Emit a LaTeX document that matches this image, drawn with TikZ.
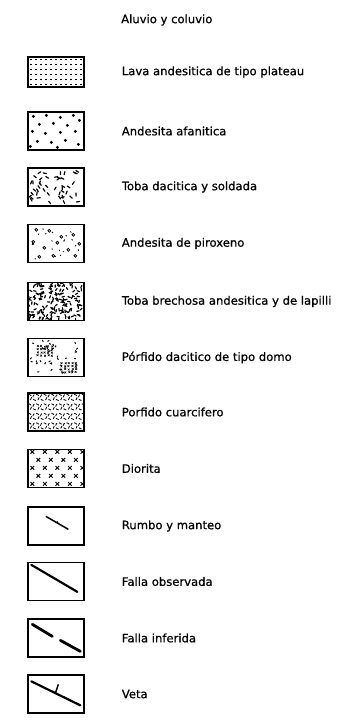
\documentclass[tikz,border=0pt]{standalone}
\usepackage{fontspec}
\setmainfont{DejaVu Sans}
\newfontfamily\lblfont[FakeBold=0.7]{DejaVu Sans}
\usetikzlibrary{positioning,calc}
\tikzset{
  sym/.style={draw,line width=1.3pt,minimum width=56pt,minimum height=38pt,inner sep=0pt},
  lbl/.style={anchor=west,inner sep=0pt,font=\fontsize{11.6}{13}\lblfont},
  fault/.style={line width=2.2pt,line cap=round},
  speck/.style={line width=1.2pt,line cap=round},
  ring/.style={line width=0.8pt},
}
\newcommand{\inbox}[1]{\clip (#1.north west) rectangle (#1.south east);}

\begin{document}
\begin{tikzpicture}[x=1pt,y=-1pt,node distance=37pt]
\useasboundingbox (0,0) rectangle (349,726);
% symbols
\node[sym,minimum height=30pt] (lava) at (56,72) {};
\node[sym] (afan) at (56,131) {};
\node[sym] (tdac) at (56,187) {};
\node[sym] (pirox) at (56,243.5) {};
\node[sym] (brech) at (56,301.5) {};
\node[sym] (pdac) at (56,357.5) {};
\node[sym] (cuarz) at (56,412) {};
\node[sym] (dior) at (56,468.5) {};
\node[sym] (rumbo) at (56,526) {};
\node[sym] (fobs) at (56,581.5) {};
\node[sym] (finf) at (56,638) {};
\node[sym] (veta) at (56,694) {};
% labels
\node[lbl] (taluv) at (121,20) {Aluvio y coluvio};
\node[lbl,right=of lava] (tlava) {Lava andesitica de tipo plateau};
\node[lbl,right=of afan] (tafan) {Andesita afanitica};
\node[lbl,right=of tdac] (ttdac) {Toba dacitica y soldada};
\node[lbl,right=of pirox] (tpirox) {Andesita de piroxeno};
\node[lbl,right=of brech] (tbrech) {Toba brechosa andesitica y de lapilli};
\node[lbl,right=of pdac] (tpdac) {Pórfido dacitico de tipo domo};
\node[lbl,right=of cuarz] (tcuarz) {Porfido cuarcifero};
\node[lbl,right=of dior] (tdior) {Diorita};
\node[lbl,right=of rumbo] (trumbo) {Rumbo y manteo};
\node[lbl,right=of fobs] (tfobs) {Falla observada};
\node[lbl,right=of finf] (tfinf) {Falla inferida};
\node[lbl,right=of veta] (tveta) {Veta};

% lava: regular rows of small dashes
\begin{scope}\inbox{lava}
  \foreach \r in {0,...,5}
    \foreach \c in {0,...,10}
      \fill ($(lava.north west)+(2.5+5*\c,2.5+5*\r)$) rectangle ++(2.2,1.6);
\end{scope}
% andesita afanitica: scattered dots
\begin{scope}[shift={(afan.north west)}]\inbox{afan}
  \foreach \px/\py in {6/5,19/4,33/6,46/4,52/9,12/13,26/12,40/14,5/20,18/22,33/21,48/20,10/30,24/31,38/29,51/33,3/35,30/36}
    \fill (\px,\py) circle (1.6);
\end{scope}
% toba dacitica: random short dashes
\begin{scope}[shift={(tdac.north west)}]\inbox{tdac}
  \pgfmathsetseed{11}
  \foreach \i in {1,...,46}{
    \pgfmathsetmacro\px{3+50*rnd}\pgfmathsetmacro\py{3+32*rnd}\pgfmathsetmacro\pa{180*rnd}
    \draw[speck] (\px,\py) -- ++(\pa:3.2);}
\end{scope}
% andesita de piroxeno: small rings and specks
\begin{scope}[shift={(pirox.north west)}]\inbox{pirox}
  \pgfmathsetseed{5}
  \foreach \px/\py in {9/6,22/7,34/13,46/11,52/20,17/24,30/19,41/26,12/33,26/32,48/32,6/18}
    \draw[ring] (\px,\py) circle (1.4);
  \foreach \i in {1,...,22}{
    \pgfmathsetmacro\px{3+50*rnd}\pgfmathsetmacro\py{3+32*rnd}\pgfmathsetmacro\pa{180*rnd}
    \draw[line width=0.8pt] (\px,\py) -- ++(\pa:1.4);}
\end{scope}
% toba brechosa: dense dashes
\begin{scope}[shift={(brech.north west)}]\inbox{brech}
  \pgfmathsetseed{23}
  \foreach \i in {1,...,170}{
    \pgfmathsetmacro\px{1+54*rnd}\pgfmathsetmacro\py{1+36*rnd}\pgfmathsetmacro\pa{180*rnd}
    \draw[speck] (\px,\py) -- ++(\pa:2.4);}
\end{scope}
% porfido dacitico: crossed clusters and dashes
\begin{scope}[shift={(pdac.north west)}]\inbox{pdac}
  \pgfmathsetseed{31}
  \foreach \cx/\cy in {17/13,41/30}
    \foreach \dx in {-7,-3.5,...,7}
      \foreach \dy in {-5,-2,...,5}{
        \pgfmathsetmacro\px{\cx+\dx+rnd}\pgfmathsetmacro\py{\cy+\dy+rnd}
        \draw[line width=0.5pt] (\px-0.9,\py-0.9) -- (\px+0.9,\py+0.9) (\px-0.9,\py+0.9) -- (\px+0.9,\py-0.9);}
  \foreach \i in {1,...,40}{
    \pgfmathsetmacro\px{2+52*rnd}\pgfmathsetmacro\py{2+34*rnd}\pgfmathsetmacro\pa{180*rnd}
    \draw[line width=1pt] (\px,\py) -- ++(\pa:2);}
\end{scope}
% porfido cuarcifero: rows of rings
\begin{scope}[shift={(cuarz.north west)}]\inbox{cuarz}
  \foreach \r in {0,...,3}
    \foreach \c in {0,...,7}
      \draw[ring,densely dashed] (1+7.6*\c,5+9.5*\r) circle (3.2);
\end{scope}
% diorita: staggered crosses
\begin{scope}[shift={(dior.north west)}]\inbox{dior}
  \foreach \r in {0,...,4}
    \foreach \c in {0,...,4}{
      \pgfmathsetmacro\px{5+12.5*\c+6*mod(\r,2)}
      \draw[line width=1pt] (\px-1.8,3+8*\r-1.8) -- (\px+1.8,3+8*\r+1.8) (\px-1.8,3+8*\r+1.8) -- (\px+1.8,3+8*\r-1.8);}
\end{scope}
% rumbo y manteo
\coordinate (r1) at ($(rumbo.north west)+(18.5,10)$);
\coordinate (r2) at ($(rumbo.north west)+(41,23)$);
\draw[line width=1.5pt] (r1) -- (r2);
\draw[line width=1pt] ($(r1)!0.55!(r2)$) -- ++(60:-2.5);
% fallas
\draw[fault] ($(fobs.north west)+(4,3)$) -- ($(fobs.north west)+(50,30)$);
\draw[fault,line width=2.8pt] ($(finf.north west)+(5,6)$) -- ($(finf.north west)+(25,18)$);
\draw[fault,line width=2.8pt] ($(finf.north west)+(33,22)$) -- ($(finf.north west)+(53,33)$);
% veta
\draw[fault] ($(veta.north west)+(4,7)$) -- ($(veta.north west)+(53,31)$);
\draw[line width=1.4pt] ($(veta.north west)+(28,19)$) -- ($(veta.north west)+(31,10)$);
\end{tikzpicture}
\end{document}
